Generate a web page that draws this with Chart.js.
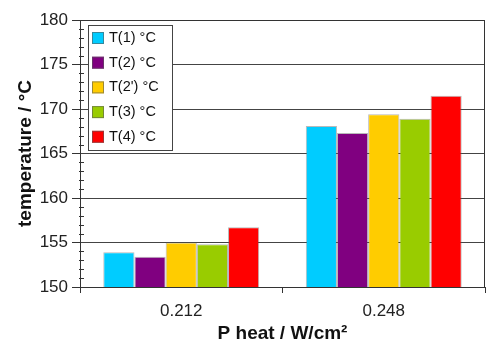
<!DOCTYPE html>
<html><head><meta charset="utf-8">
<script src="https://cdn.jsdelivr.net/npm/chart.js@4/dist/chart.umd.min.js"></script>
<style>html,body{margin:0;padding:0;background:#fff}#w{width:486px;height:341px}</style>
</head><body><div id="w"><canvas id="c" width="486" height="341"></canvas></div>
<script>
const categories = ['0.212', '0.248'];
const seriesNames = ['T(1) °C', 'T(2) °C', "T(2') °C", 'T(3) °C', 'T(4) °C'];
const T1 = [153.9, 168.1];
const T2 = [153.4, 167.3];
const T2p = [155.0, 169.4];
const T3 = [154.8, 168.9];
const T4 = [156.7, 171.5];
const colors = ['#00CCFF', '#800080', '#FFCC00', '#99CC00', '#FF0000'];
const yMin = 150, yMax = 180, yStep = 5;

const seriesValues = [T1, T2, T2p, T3, T4];
const font = 'Arial, "Liberation Sans", sans-serif';

const framePlugin = {
  id: 'frame',
  afterDraw(chart) {
    const ctx = chart.ctx, a = chart.chartArea, y = chart.scales.y;
    ctx.save();
    ctx.strokeStyle = '#333'; ctx.lineWidth = 1;
    ctx.beginPath();
    ctx.moveTo(a.left, a.top + 0.5); ctx.lineTo(a.right - 0.5, a.top + 0.5);
    ctx.lineTo(a.right - 0.5, a.bottom);
    ctx.stroke();
    ctx.beginPath();
    for (let v = yMin + 1; v < yMax; v++) {
      if (v % yStep === 0) continue;
      const py = Math.round(y.getPixelForValue(v)) + 0.5;
      ctx.moveTo(a.left - 1, py); ctx.lineTo(a.left + 4, py);
    }
    ctx.stroke();
    const lx = a.left + 8, ly = a.top + 5, lw = 84, lh = 125;
    ctx.fillStyle = '#fff';
    ctx.fillRect(lx, ly, lw, lh);
    ctx.strokeStyle = '#444';
    ctx.strokeRect(lx + 0.5, ly + 0.5, lw, lh);
    ctx.font = '14.5px ' + font;
    ctx.textBaseline = 'middle';
    chart.data.datasets.forEach((ds, i) => {
      const cy = ly + 13 + i * 24.7;
      ctx.fillStyle = ds.backgroundColor;
      ctx.fillRect(lx + 4, cy - 6, 12, 12);
      ctx.strokeStyle = 'rgba(90,90,90,0.6)';
      ctx.strokeRect(lx + 4.5, cy - 5.5, 11, 11);
      ctx.fillStyle = '#111';
      ctx.fillText(ds.label, lx + 21, cy);
    });
    ctx.restore();
  }
};

new Chart(document.getElementById('c'), {
  type: 'bar',
  data: {
    labels: categories,
    datasets: seriesValues.map((vals, i) => ({
      label: seriesNames[i],
      data: vals,
      backgroundColor: colors[i],
      borderColor: 'rgba(100,100,100,0.45)',
      borderWidth: 1,
      barPercentage: 1.0,
      categoryPercentage: 0.77
    }))
  },
  options: {
    responsive: false,
    animation: false,
    devicePixelRatio: 1,
    layout: { padding: { top: 20, right: 1, left: 0, bottom: 0 } },
    plugins: { legend: { display: false }, tooltip: { enabled: false } },
    scales: {
      x: {
        grid: { display: true, drawOnChartArea: false, drawTicks: true, offset: true, tickLength: 6, color: '#333' },
        border: { color: '#333' },
        ticks: { color: '#222', font: { family: font, size: 17 }, padding: 8 },
        title: { display: true, text: 'P heat / W/cm²', color: '#111', font: { family: font, size: 19, weight: 'bold' }, padding: { top: 3, bottom: -4 } },
        afterFit(s) { s.height = 54; }
      },
      y: {
        min: yMin, max: yMax,
        grid: { color: '#444', tickLength: 8, tickColor: '#333' },
        border: { color: '#333' },
        ticks: { stepSize: yStep, color: '#222', font: { family: font, size: 17 }, padding: 4 },
        title: { display: true, text: 'temperature / °C', color: '#111', font: { family: font, size: 19, weight: 'bold' }, padding: { top: 14, bottom: 0 } },
        afterFit(s) { s.width = 80; }
      }
    }
  },
  plugins: [framePlugin]
});
</script></body></html>
